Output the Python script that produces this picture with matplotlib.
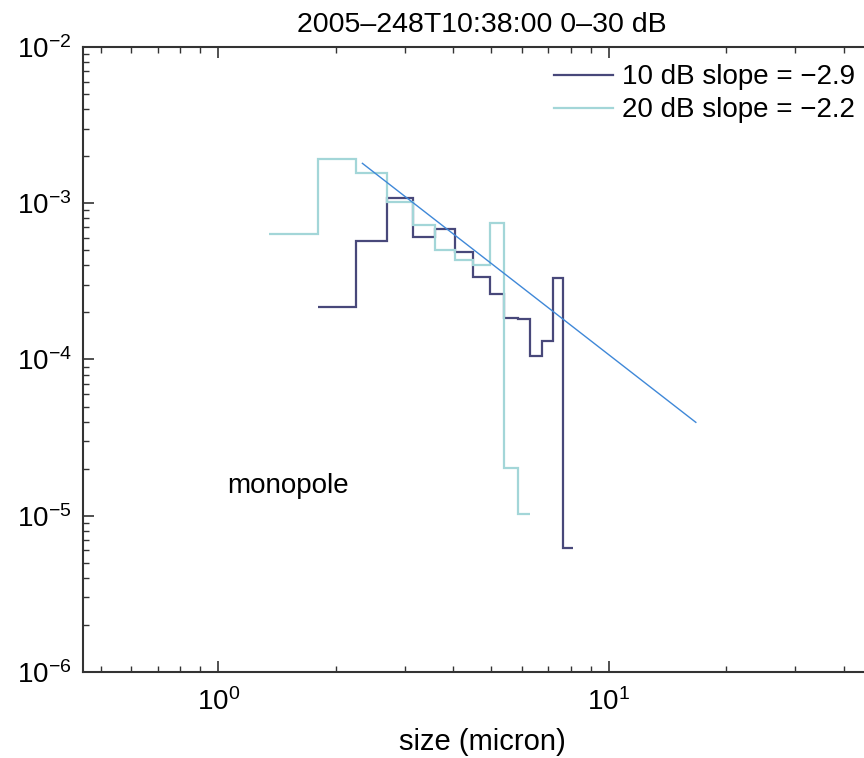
import matplotlib.pyplot as plt
import numpy as np

plt.rcParams['font.family'] = ['Liberation Sans', 'DejaVu Sans']
plt.rcParams['mathtext.default'] = 'regular'

# histogram bin edges (micron) and counts for the two thresholds
edges_10db = [1.80, 2.25, 2.70, 3.15, 3.60, 4.05, 4.50, 4.95, 5.40, 5.85,
              6.30, 6.75, 7.20, 7.65, 8.10]
vals_10db = [2.18e-4, 5.76e-4, 1.076e-3, 6.05e-4, 6.81e-4, 4.90e-4, 3.39e-4,
             2.61e-4, 1.85e-4, 1.81e-4, 1.05e-4, 1.31e-4, 3.34e-4, 6.25e-6]

edges_20db = [1.35, 1.80, 2.25, 2.70, 3.15, 3.60, 4.05, 4.50, 4.95, 5.40,
              5.85, 6.30]
vals_20db = [6.33e-4, 1.91e-3, 1.57e-3, 1.02e-3, 7.26e-4, 5.02e-4, 4.33e-4,
             4.03e-4, 7.44e-4, 2.03e-5, 1.02e-5]

labels = ['10 dB slope = \u22122.9', '20 dB slope = \u22122.2']

# power law fit line
fit_x = [2.34, 16.7]
fit_y = [1.80e-3, 3.96e-5]

fig = plt.figure(figsize=(8.64, 7.58), dpi=100)
ax = fig.add_axes([0.0957, 0.1135, 0.925, 0.8245])

ax.stairs(vals_10db, edges_10db, baseline=None, color='#48487a', lw=1.6, label=labels[0])
ax.stairs(vals_20db, edges_20db, baseline=None, color='#a3d6d8', lw=1.6, label=labels[1])
ax.plot(fit_x, fit_y, color='#3f88d8', lw=1)

ax.set_xscale('log')
ax.set_yscale('log')
ax.set_xlim(0.45, 50)
ax.set_ylim(1e-6, 1e-2)

for s in ax.spines.values():
    s.set_linewidth(1.5)
    s.set_color('#333333')

ax.tick_params(which='both', direction='in', top=True, right=True, colors='#333333',
               labelcolor='black', labelsize=20)
ax.tick_params(which='major', length=8, width=1.2)
ax.tick_params(which='minor', length=4, width=1.0)
ax.tick_params(axis='x', pad=12)
ax.tick_params(axis='y', pad=8)

ax.set_xlabel('size (micron)', fontsize=21, labelpad=8)
ax.set_title('2005\u2013248T10:38:00 0\u201330 dB', fontsize=20.5, pad=11)

ax.text(0.257, 0.298, 'monopole', transform=ax.transAxes, fontsize=20,
        ha='center', va='center')

ax.legend(loc='upper right', bbox_to_anchor=(0.99, 0.915), bbox_transform=fig.transFigure,
          frameon=False, fontsize=20, handlelength=2.1, handletextpad=0.35,
          labelspacing=0.25, borderpad=0, borderaxespad=0)

fig.savefig('out.png', dpi=100)
